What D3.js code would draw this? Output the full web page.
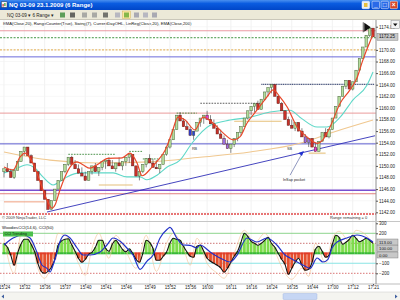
<!DOCTYPE html>
<html>
<head>
<meta charset="utf-8">
<script src="https://cdn.jsdelivr.net/npm/d3@7"></script>
<style>
  body { margin: 0; background: #fff; }
  svg { display: block; font-family: "Liberation Sans", Arial, sans-serif; }
</style>
</head>
<body>
<div class="ninja-chart"></div>
<script>
// NQ 03-09, 6 range bars
const closes = [
  1149.5, 1149, 1148, 1149.25, 1150.75, 1152.5, 1153.25, 1151.75, 1150.5, 1149,
  1147.5, 1145.75, 1144.25, 1142.5, 1144, 1146, 1147.5, 1149, 1150.25, 1151.5,
  1150.25, 1149.5, 1148.75, 1148.25, 1147.5, 1149, 1150, 1149, 1149.75, 1150.75,
  1151, 1150, 1149.5, 1150.5, 1150, 1150.75, 1151.5, 1152, 1150, 1148.25,
  1149, 1150.25, 1151.25, 1150.5, 1149.75, 1149.5, 1150.25, 1152, 1153.25, 1154.5,
  1156.25, 1158.75, 1157.75, 1156.75, 1156.25, 1155.25, 1156, 1157.5, 1158.25, 1158.75,
  1158, 1157.25, 1156.5, 1155.5, 1154.75, 1153.75, 1153, 1153.75, 1154.75, 1155.75,
  1156.75, 1158.25, 1159.5, 1160.25, 1160.75, 1159.75, 1161.5, 1162.75, 1163.5, 1164,
  1162, 1160.75, 1159.5, 1158, 1157, 1156.5, 1157.5, 1156, 1155, 1154,
  1154.75, 1153.25, 1152.5, 1154.25, 1155.75, 1155, 1156.25, 1158.25, 1160.25, 1162,
  1163.75, 1164.75, 1163.25, 1164.5, 1166.5, 1168.5, 1170.5, 1172.5, 1173.75, 1172.25
];
const firstOpen = 1149;
const rangeSize = 1.5; // 6 ticks

const paintBlue = [55, 56];
const paintMagenta = [60, 92];
const paintPurple = [65, 66, 89, 90];

// indicator lines: [bar, price]
const redLine = [[0,1149.8],[2.7,1149.3],[4.7,1151.5],[6.2,1152.2],[8.3,1150.7],[9.7,1148.8],[11.2,1146.4],[12.7,1144.1],[14.2,1142.7],[15.1,1143.3],[16.5,1145.8],[18,1148.1],[19.5,1149.8],[21.6,1150.7],[23.3,1150.2],[25.4,1149.6],[27.5,1150.2],[30.7,1151.3],[34.9,1151.4],[37.2,1152.2],[39.3,1150.5],[40.8,1148.3],[43.7,1149.8],[45.5,1151],[47.6,1152.7],[49.6,1155.7],[51.4,1158.4],[53.5,1157.9],[56.4,1156.2],[58.8,1158.4],[61.7,1157.4],[64.7,1155.7],[67.7,1154.5],[69.7,1155],[71.8,1157.4],[74.7,1159.6],[77.7,1161.9],[79.5,1163.1],[81.5,1161.9],[83.6,1160.2],[86.6,1156.7],[89.5,1155],[92.5,1153.9],[94.2,1154.5],[96.3,1156.7],[99.3,1160.8],[102.2,1163.1],[104.3,1165.2],[105.8,1167.9],[108.1,1171.4],[109,1172.6]];
const cyanLine = [[0,1148.8],[2.7,1149.3],[6.8,1150.2],[9.2,1149.6],[11.5,1148.1],[14.5,1146.7],[16,1147.1],[18.6,1148.1],[22.5,1148.8],[27.5,1148.8],[32.2,1148.8],[36.3,1148.1],[40.2,1148.1],[42.2,1147.6],[45.2,1148.4],[48.2,1149.8],[52,1151],[55.5,1153.9],[60.9,1157],[66.8,1157.9],[72.7,1158.4],[78.6,1159.3],[84.5,1159.6],[87.4,1158.4],[92.5,1156.7],[95.4,1156.7],[99.3,1158.4],[103.1,1161.4],[107.2,1163.9],[109,1166.2]];
const tanLine = [[0,1152.4],[13.6,1151],[28.4,1150.5],[43.1,1150.7],[57.9,1151.5],[72.7,1152.4],[87.4,1153.9],[97.2,1155.8],[109,1157.9]];

const levelPrices = [1173.3, 1172.1, 1170.0, 1168.8, 1159.1, 1153.8, 1145.8, 1145.2, 1141.7];
const levelNames = ["dayHigh", "last", "dayOpen", "swingHigh", "prevHigh", "pivot", "swingLow", "prevLow", "dayLow"];

// [fromBar, toBar, price]
const greenSegs = [[19,33,1152],[37,41,1152.5],[41,46,1151.2],[51,57,1159.1]];
const blackSegs = [[58,76,1160.8]];
const navySegs = [[76,109.5,1164.07]];
const tanSegs = [[28,38,1146.7],[68,82,1157.7],[90,95,1152.2]];
const salmonSegs = [[0,12,1143.8]];

const trendLine = [[12.7,1142.05],[109.6,1155.2]];
const arrowLine = [[84.5,1148.4],[88.3,1152.4]];
const noteText = ["InSap pocket", 82.4, 1147.4];
const swingText = [["RB",55.5,1152.7],["SB",83.6,1152.7]];
const flagAt = [107.6, 1173.9];

const timeLabels = ["15:24","15:32","15:36","15:37","15:40","15:41","15:46","15:49","15:52","15:56","16:00","16:11","16:16","16:24","16:35","16:44","17:00","17:12","17:21"];
const timeLabelBars = [0,6,12,18,24,30,36,43,49,55,60,67,73,79,85,91,97,103,109];
const priceTicks = [1142,1144,1146,1148,1150,1152,1154,1156,1158,1160,1162,1164,1166,1168,1170,1174];

// Woodies CCI
const cci14 = [
  100, 60, -20, -120, 0, 90, 140, 140, 90, 20,
  -100, -180, -200, -180, -140, -60, 80, 125, 140, 145,
  85, 20, -50, -90, -60, -10, 10, 60, 130, 130,
  50, 20, 90, 130, 90, 40, 15, 45, 0, -60,
  -90, 0, 130, 110, 50, -70, -70, -30, 10, 100,
  150, 140, 130, 70, 15, -30, -40, 70, 80, 20,
  -50, -80, -100, -120, -145, -190, -150, -90, -30, 20,
  110, 200, 170, 120, 100, 80, 100, 130, 160, 100,
  60, 0, -60, -110, -210, -150, -90, -50, -120, -170,
  -160, -90, 40, 70, 20, -40, -20, 90, 180, 160,
  90, 110, 140, 180, 150, 115, 130, 150, 130, 100
];
const cci50 = [[0,83],[2.7,153],[5.6,183],[7.7,153],[9.7,13],[11.2,-117],[12.7,-150],[13.6,-187],[14.5,-117],[15.7,13],[16.5,113],[18,183],[19.5,153],[21.6,53],[23.3,-17],[25.4,-17],[28.4,13],[30.4,83],[32.2,153],[34.3,120],[36.3,53],[38.1,-17],[40.2,-160],[42.2,-80],[44,-20],[46.1,153],[48.2,240],[49,260],[51.1,150],[52.9,83],[54.9,80],[57,53],[57.9,83],[60.9,13],[63.8,-47],[66.8,-87],[68.8,-20],[71.8,153],[74.7,113],[77.7,153],[80.6,83],[83,-17],[84.5,-47],[86.6,-87],[88.3,-117],[90.4,-150],[92.5,-47],[94.2,-87],[95.7,-60],[96.9,53],[98.4,113],[101.3,153],[104.3,183],[107.2,153],[109,113]];
const turbo = [[0,150],[3,-200],[5,180],[8,120],[10,-150],[12,-250],[14,-100],[16,200],[19,150],[22,-100],[24,-220],[26,50],[28,200],[31,-50],[33,180],[36,20],[39,-150],[42,180],[45,-180],[48,100],[50,200],[53,50],[55,-120],[57,150],[60,-100],[63,-200],[65,-250],[68,0],[71,230],[74,100],[77,200],[80,20],[83,-200],[85,-260],[88,-150],[90,-230],[92,100],[95,-100],[97,150],[99,220],[102,120],[104,230],[107,180],[109,90]];
const cciTicks = [300, 200, -100, -200];

// ---------------------------------------------------------------
const W = 400, H = 300;
const N = closes.length;
const plotRight = 376;
const priceTop = 20, priceBottom = 221, cciTop = 222, cciBottom = 284;

const svg = d3.select(".ninja-chart").append("svg")
    .attr("width", W).attr("height", H);
const defs = svg.append("defs");

const x = d3.scaleLinear().domain([0, N - 1]).range([4, 373]);
const y = d3.scaleLinear().domain([1142, 1174]).range([212.3, 26.7]);
const yc = d3.scaleLinear().domain([-300, 300]).range([283.3, 223.3]);

defs.append("clipPath").attr("id", "clipPrice").append("rect")
    .attr("x", 0).attr("y", priceTop).attr("width", plotRight).attr("height", priceBottom - priceTop);
defs.append("clipPath").attr("id", "clipCci").append("rect")
    .attr("x", 0).attr("y", cciTop).attr("width", plotRight).attr("height", cciBottom - cciTop);

// window title bar
const tb = defs.append("linearGradient").attr("id", "titleGrad")
    .attr("x1", 0).attr("y1", 0).attr("x2", 0).attr("y2", 1);
tb.append("stop").attr("offset", 0).attr("stop-color", "#4a90f0");
tb.append("stop").attr("offset", 0.35).attr("stop-color", "#0a5ce0");
tb.append("stop").attr("offset", 1).attr("stop-color", "#0046c8");
svg.append("rect").attr("x", 0).attr("y", 0).attr("width", W).attr("height", 10).attr("fill", "url(#titleGrad)");
svg.append("rect").attr("x", 1.5).attr("y", 1.8).attr("width", 5.5).attr("height", 5.5)
    .attr("fill", "#f4f4f4").attr("stroke", "#333").attr("stroke-width", 0.4);
svg.append("rect").attr("x", 2.5).attr("y", 4).attr("width", 1.2).attr("height", 2.5).attr("fill", "#d03030");
svg.append("rect").attr("x", 4.3).attr("y", 3).attr("width", 1.2).attr("height", 3).attr("fill", "#30a030");
svg.append("text").attr("x", 9).attr("y", 7.3).attr("fill", "#fff").attr("font-size", 6)
    .attr("font-weight", "bold").text("NQ 03-09   23.1.2009 (6 Range)");

const btns = [[362, "#e8eef8", ""], [372, "#2a6ae8", "_"], [381, "#2a6ae8", "□"], [390, "#d8482a", "×"]];
btns.forEach(([bx, fill, t]) => {
  svg.append("rect").attr("x", bx).attr("y", 1.2).attr("width", 7.5).attr("height", 7.5).attr("rx", 1)
      .attr("fill", fill).attr("stroke", "#fff").attr("stroke-width", 0.5);
  svg.append("text").attr("x", bx + 3.75).attr("y", 7.3).attr("text-anchor", "middle")
      .attr("fill", "#fff").attr("font-size", 6.5).attr("font-weight", "bold").text(t);
});
svg.append("rect").attr("x", 364).attr("y", 3).attr("width", 3.5).attr("height", 4).attr("fill", "#e8c040");

// toolbar
svg.append("rect").attr("x", 0).attr("y", 10).attr("width", W).attr("height", 9.5).attr("fill", "#ece9d8");
svg.append("line").attr("x1", 0).attr("x2", W).attr("y1", 19.5).attr("y2", 19.5).attr("stroke", "#aca899").attr("stroke-width", 0.6);
svg.append("text").attr("x", 7).attr("y", 16.8).attr("font-size", 4.6).attr("fill", "#222").text("NQ 03-09  ▾   6 Range  ▾");
const tools = [[60, "#3a8a3a"], [70, "#444"], [82, "#999"], [92, "#999"], [103, "#555"], [115, "#aab"], [124, "#6a3"], [134, "#99a"], [143, "#aab"], [152, "#99a"]];
tools.forEach(([tx, c], k) => {
  if (k === 6) svg.append("rect").attr("x", tx - 1.5).attr("y", 11).attr("width", 8).attr("height", 7.5)
      .attr("fill", "#fde9a8").attr("stroke", "#c8a848").attr("stroke-width", 0.4);
  svg.append("rect").attr("x", tx).attr("y", 12.5).attr("width", 5).attr("height", 5).attr("fill", c).attr("opacity", 0.8);
});

// price panel
const price = svg.append("g");
price.append("rect").attr("x", 0).attr("y", priceTop).attr("width", W).attr("height", priceBottom - priceTop).attr("fill", "#fff");
price.append("text").attr("x", 3).attr("y", 25.3).attr("font-size", 4.2).attr("fill", "#111")
    .text("EMA(Close,20), RangeCounter(True), Swing(7), CurrentDayOHL, LinReg(Close,20), EMA(Close,200)");

const pp = price.append("g").attr("clip-path", "url(#clipPrice)");

// grid
pp.selectAll(".vgrid").data(timeLabelBars).join("line").attr("class", "vgrid")
    .attr("x1", d => x(d)).attr("x2", d => x(d)).attr("y1", priceTop).attr("y2", priceBottom)
    .attr("stroke", "#e9e9e9").attr("stroke-width", 0.6);
pp.selectAll(".hgrid").data(priceTicks).join("line").attr("class", "hgrid")
    .attr("x1", 0).attr("x2", plotRight).attr("y1", d => y(d)).attr("y2", d => y(d))
    .attr("stroke", "#f1f1f1").attr("stroke-width", 0.6);

// horizontal day / swing levels
const levelStyle = {
  dayHigh:   { c: "#e8909a", w: 0.9, dash: null },
  last:      { c: "#2c8a2c", w: 0.9, dash: "2,1.4" },
  dayOpen:   { c: "#e0a030", w: 0.9, dash: "2,1.4" },
  swingHigh: { c: "#5b5bd6", w: 0.9, dash: null },
  prevHigh:  { c: "#e89090", w: 0.9, dash: null },
  pivot:     { c: "#4a4ac8", w: 0.9, dash: null },
  swingLow:  { c: "#7a4fd0", w: 1.3, dash: null },
  prevLow:   { c: "#e07070", w: 0.9, dash: null },
  dayLow:    { c: "#e04848", w: 1.6, dash: "2,1" }
};
pp.selectAll(".level").data(levelPrices).join("line").attr("class", "level")
    .attr("x1", 0).attr("x2", plotRight).attr("y1", d => y(d)).attr("y2", d => y(d))
    .attr("stroke", (d, k) => levelStyle[levelNames[k]].c)
    .attr("stroke-width", (d, k) => levelStyle[levelNames[k]].w)
    .attr("stroke-dasharray", (d, k) => levelStyle[levelNames[k]].dash);

function segments(data, color, width, dash) {
  pp.append("g").selectAll("line").data(data).join("line")
      .attr("x1", d => x(d[0])).attr("x2", d => x(d[1]))
      .attr("y1", d => y(d[2])).attr("y2", d => y(d[2]))
      .attr("stroke", color).attr("stroke-width", width).attr("stroke-dasharray", dash);
}
segments(greenSegs, "#3a8a3a", 0.9, "1.6,1.2");
segments(blackSegs, "#333", 0.8, "1.6,1.2");
segments(navySegs, "#203060", 1, "1.2,0.6");
segments(tanSegs, "#e6c07a", 1.1, null);
segments(salmonSegs, "#f0a080", 1, null);

// trend line
pp.append("line")
    .attr("x1", x(trendLine[0][0])).attr("y1", y(trendLine[0][1]))
    .attr("x2", x(trendLine[1][0])).attr("y2", y(trendLine[1][1]))
    .attr("stroke", "#3030b8").attr("stroke-width", 0.9);

// slow averages (under the bars)
const lineGen = d3.line().x(d => x(d[0])).y(d => y(d[1])).curve(d3.curveMonotoneX);
pp.append("path").datum(tanLine).attr("d", lineGen).attr("fill", "none").attr("stroke", "#f0c890").attr("stroke-width", 1.1);
pp.append("path").datum(cyanLine).attr("d", lineGen).attr("fill", "none").attr("stroke", "#5fd8c8").attr("stroke-width", 1.1);

// range bars
const bars = closes.map((c, i) => {
  const o = i ? closes[i - 1] : firstOpen;
  const up = c >= o;
  const hi = up ? c : Math.max(o, c + rangeSize);
  const lo = up ? Math.min(o, c - rangeSize) : c;
  return { i, o, c, hi, lo, up };
});
function barFill(b) {
  if (paintBlue.includes(b.i)) return "#2a40d8";
  if (paintMagenta.includes(b.i)) return "#e040d0";
  if (paintPurple.includes(b.i)) return "#9a70e0";
  return b.up ? "#b4dc9c" : "#c83028";
}
const cg = pp.append("g");
cg.selectAll(".wick").data(bars).join("line").attr("class", "wick")
    .attr("x1", d => x(d.i)).attr("x2", d => x(d.i))
    .attr("y1", d => y(d.hi)).attr("y2", d => y(d.lo))
    .attr("stroke", "#3a3a3a").attr("stroke-width", 0.6);
cg.selectAll(".body").data(bars).join("rect").attr("class", "body")
    .attr("x", d => x(d.i) - 1.25).attr("width", 2.5)
    .attr("y", d => y(Math.max(d.o, d.c)))
    .attr("height", d => Math.max(0.8, Math.abs(y(d.o) - y(d.c))))
    .attr("fill", barFill).attr("stroke", d => d.up ? "#3d5a2e" : "#5a1a14").attr("stroke-width", 0.45);

// red fast line on top
pp.append("path").datum(redLine).attr("d", lineGen).attr("fill", "none").attr("stroke", "#e8482a").attr("stroke-width", 1.2);

// annotations
pp.append("line")
    .attr("x1", x(arrowLine[0][0])).attr("y1", y(arrowLine[0][1]))
    .attr("x2", x(arrowLine[1][0])).attr("y2", y(arrowLine[1][1]))
    .attr("stroke", "#203080").attr("stroke-width", 0.5);
const ax = x(arrowLine[1][0]), ay = y(arrowLine[1][1]);
pp.append("path").attr("d", `M${ax + 1},${ay - 1} L${ax - 4.5},${ay + 1} L${ax - 1},${ay + 4} Z`).attr("fill", "#2030d0");
pp.append("text").attr("x", x(noteText[1])).attr("y", y(noteText[2])).attr("font-size", 3.8).attr("fill", "#222").text(noteText[0]);
pp.selectAll(".swingTxt").data(swingText).join("text").attr("class", "swingTxt")
    .attr("x", d => x(d[1])).attr("y", d => y(d[2])).attr("font-size", 3.8).attr("fill", "#333").text(d => d[0]);
const fx = x(flagAt[0]), fy = y(flagAt[1]);
pp.append("path").attr("d", `M${fx - 4},${fy - 4.5} L${fx + 2.5},${fy} L${fx - 4},${fy + 4.5} Z`).attr("fill", "#111");
pp.append("line").attr("x1", fx - 5).attr("x2", fx - 5).attr("y1", fy - 5).attr("y2", fy + 5).attr("stroke", "#111").attr("stroke-width", 0.7);

price.append("text").attr("x", 2).attr("y", 218.5).attr("font-size", 4).attr("fill", "#333").text("© 2009 NinjaTrader, LLC");
price.append("text").attr("x", 330).attr("y", 218.5).attr("font-size", 4).attr("fill", "#333").text("Range remaining = 0");

// price axis
const yAxis = d3.axisRight(y).tickValues(priceTicks).tickFormat(d3.format(".2f")).tickSize(2).tickPadding(1);
price.append("g").attr("transform", `translate(${plotRight},0)`).call(yAxis)
    .call(g => g.select(".domain").attr("stroke", "#909090").attr("d", `M0,${priceTop}V${priceBottom}`))
    .call(g => g.selectAll("text").attr("font-size", 4.5).attr("fill", "#222").attr("font-family", "Liberation Sans"))
    .call(g => g.selectAll(".tick line").attr("stroke", "#555"));
const lastClose = closes[N - 1];
price.append("rect").attr("x", plotRight + 1).attr("y", y(lastClose) - 3.5).attr("width", 21).attr("height", 7)
    .attr("fill", "#c8c8c8").attr("stroke", "#707070").attr("stroke-width", 0.4);
price.append("text").attr("x", plotRight + 3).attr("y", y(lastClose) + 1.6).attr("font-size", 4.5).attr("fill", "#111")
    .text(d3.format(".2f")(lastClose));
// panel menu button (drawn glyph, sits over the top tick label like in NinjaTrader)
price.append("rect").attr("x", 391).attr("y", 20.5).attr("width", 8.5).attr("height", 8)
    .attr("fill", "#f4f4f4").attr("stroke", "#888").attr("stroke-width", 0.5);
price.append("path").attr("d", "M393,23.5 L397.5,23.5 L395.25,26.3 Z").attr("fill", "#111");

// CCI panel
const cci = svg.append("g");
cci.append("line").attr("x1", 0).attr("x2", W).attr("y1", priceBottom + 0.5).attr("y2", priceBottom + 0.5).attr("stroke", "#a0a0a0").attr("stroke-width", 0.6);
const cp = cci.append("g").attr("clip-path", "url(#clipCci)");
cp.selectAll(".vgrid").data(timeLabelBars).join("line").attr("class", "vgrid")
    .attr("x1", d => x(d)).attr("x2", d => x(d)).attr("y1", cciTop).attr("y2", cciBottom)
    .attr("stroke", "#ececec").attr("stroke-width", 0.6);

const cciLines = [[200, "#80d080", 0.9, null], [100, "#c05050", 0.8, "1.5,1.5"], [-100, "#8ae4e4", 1.1, null], [-200, "#d05050", 0.8, "1.5,1.5"]];
cp.selectAll(".cline").data(cciLines).join("line").attr("class", "cline")
    .attr("x1", 0).attr("x2", plotRight).attr("y1", d => yc(d[0])).attr("y2", d => yc(d[0]))
    .attr("stroke", d => d[1]).attr("stroke-width", d => d[2]).attr("stroke-dasharray", d => d[3]);

cp.selectAll(".hist").data(cci14).join("rect").attr("class", "hist")
    .attr("x", (d, i) => x(i) - 1.4).attr("width", 2.8)
    .attr("y", d => Math.min(yc(d), yc(0))).attr("height", d => Math.abs(yc(d) - yc(0)))
    .attr("fill", d => d >= 0 ? "#7edc4c" : "#e4502e");

// zero line coloured bar by bar
cp.selectAll(".zero").data(cci14).join("rect").attr("class", "zero")
    .attr("x", (d, i) => x(i) - 1.7).attr("width", 3.4).attr("y", yc(0) - 1).attr("height", 2)
    .attr("fill", d => d >= 0 ? "#38b838" : "#e03c28");

const cLine = d3.line().x(d => x(d[0])).y(d => yc(d[1])).curve(d3.curveMonotoneX);
cp.append("path").datum(turbo).attr("d", cLine).attr("fill", "none").attr("stroke", "#f4c090").attr("stroke-width", 0.6);
cp.append("path").datum(cci14.map((v, i) => [i, v])).attr("d", cLine).attr("fill", "none").attr("stroke", "#111").attr("stroke-width", 1.1);
cp.append("path").datum(cci50).attr("d", cLine).attr("fill", "none").attr("stroke", "#2232c8").attr("stroke-width", 1.2);

cci.append("text").attr("x", 2).attr("y", 229).attr("font-size", 4.2).attr("fill", "#111").text("WoodiesCCI(14,6), CCI(50)");
cci.append("rect").attr("x", 3).attr("y", 231.5).attr("width", 30).attr("height", 5).attr("fill", "#4cc04c");
cci.append("text").attr("x", 4.5).attr("y", 235.4).attr("font-size", 3.8).attr("fill", "#103010").text("CCI Trending");

const ycAxis = d3.axisRight(yc).tickValues(cciTicks).tickFormat(d3.format("d")).tickSize(2).tickPadding(1);
cci.append("g").attr("transform", `translate(${plotRight},0)`).call(ycAxis)
    .call(g => g.select(".domain").attr("stroke", "#909090").attr("d", `M0,${cciTop}V${cciBottom}`))
    .call(g => g.selectAll("text").attr("font-size", 4.5).attr("fill", "#222").attr("font-family", "Liberation Sans"))
    .call(g => g.selectAll(".tick line").attr("stroke", "#555"));

// value boxes: CCI50, CCI14, zero line
const boxVals = [cci50[cci50.length - 1][1], cci14[N - 1], 0];
let lastBoxY = -Infinity;
boxVals.forEach(v => {
  let by = Math.max(yc(v), lastBoxY + 6.5);
  lastBoxY = by;
  cci.append("rect").attr("x", plotRight + 1).attr("y", by - 3).attr("width", 21).attr("height", 6)
      .attr("fill", "#c8c8c8").attr("stroke", "#707070").attr("stroke-width", 0.4);
  cci.append("text").attr("x", plotRight + 3).attr("y", by + 1.6).attr("font-size", 4.3).attr("fill", "#111")
      .text(d3.format(".2f")(v));
});

// time axis
svg.append("line").attr("x1", 0).attr("x2", W).attr("y1", cciBottom).attr("y2", cciBottom).attr("stroke", "#909090").attr("stroke-width", 0.6);
const xAxis = d3.axisBottom(x).tickValues(timeLabelBars).tickFormat((d, k) => timeLabels[k]).tickSize(1.5).tickPadding(0.5);
svg.append("g").attr("transform", `translate(0,${cciBottom})`).call(xAxis)
    .call(g => g.select(".domain").remove())
    .call(g => g.selectAll("text").attr("font-size", 4.5).attr("fill", "#222").attr("font-family", "Liberation Sans"))
    .call(g => g.selectAll(".tick line").attr("stroke", "#555"));

// scrollbar
svg.append("rect").attr("x", 0).attr("y", 292).attr("width", W).attr("height", 8).attr("fill", "#f4f4f0");
svg.append("line").attr("x1", 0).attr("x2", W).attr("y1", 292).attr("y2", 292).attr("stroke", "#c8c8c8").attr("stroke-width", 0.5);
svg.append("rect").attr("x", 283).attr("y", 293.5).attr("width", 34).attr("height", 6).attr("rx", 1)
    .attr("fill", "#c6d6f4").attr("stroke", "#9ab0e0").attr("stroke-width", 0.4);
svg.append("path").attr("d", "M4,294.5 L1.5,296.5 L4,298.5 Z").attr("fill", "#4060a0");
svg.append("path").attr("d", "M395,294.5 L397.5,296.5 L395,298.5 Z").attr("fill", "#4060a0");
</script>
</body>
</html>
